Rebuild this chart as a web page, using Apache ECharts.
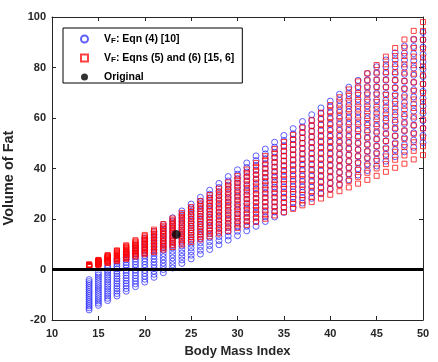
<!DOCTYPE html>
<html>
<head>
<meta charset="utf-8">
<script src="https://cdn.jsdelivr.net/npm/echarts@6/dist/echarts.min.js"></script>
<style>
  html, body { margin: 0; padding: 0; background: #fff; }
  #chart { width: 438px; height: 362px; }
</style>
</head>
<body>
<div id="chart"></div>
<script>
// BMI columns (x) and the value range of each stack
const bmi = [14,15,16,17,18,19,20,21,22,23,24,25,26,27,28,29,30,31,32,33,34,35,36,37,38,39,40,41,42,43,44,45,46,47,48,49,50];

// V_F: Eqn (4) [10]  -- blue circles, lowest / highest per column
const blueLow  = [-16,-14.2,-12.3,-10.5,-8.6,-6.8,-5,-3.1,-1.3,0.6,2.4,4.2,6.1,7.9,9.8,11.6,13.4,15.3,17.1,19,20.8,22.6,24.5,26.3,28.2,30,31.8,33.7,35.5,37.4,39.2,41,42.9,44.7,46.6,48.4,50.2];
const blueHigh = [-4,-1.3,1.4,4.2,6.9,9.6,12.3,15,17.8,20.5,23.2,25.9,28.6,31.4,34.1,36.8,39.5,42.2,45,47.7,50.4,53.1,55.8,58.6,61.3,64,66.7,69.4,72.2,74.9,77.6,80.3,83,85.8,88.5,91.2,93.9];

// V_F: Eqns (5) and (6) [15, 6]  -- red squares, lowest / highest per column
const redLow  = [1,1.8,2.6,3.4,4.2,5.1,6,6.9,7.9,8.9,9.9,10.9,11.9,13.1,14.2,15.3,16.5,17.7,18.9,20.1,21.4,22.7,24,25.4,26.7,28.1,29.6,31,32.5,34,35.5,37.1,38.7,40.3,41.9,43.6,45.3];
const redHigh = [2,3.8,5.7,7.6,9.6,11.6,13.7,15.8,18,20.2,22.4,24.7,27.1,29.5,32,34.5,37,39.6,42.2,44.9,47.7,50.5,53.3,56.2,59.1,62.1,65.1,68.2,71.3,74.5,77.7,81,84.3,87.7,91.1,94.5,98];

const marksPerColumn = 16;
const original = [23.4, 13.9];

const xTicks = { min: 10, max: 50, interval: 5 };
const yTicks = { min: -20, max: 100, interval: 20 };

function columns(low, high) {
    let pts = [];
    for (let i = 0; i < bmi.length; i++) {
        for (let k = 0; k < marksPerColumn; k++) {
            pts.push([bmi[i], low[i] + (high[i] - low[i]) * k / (marksPerColumn - 1)]);
        }
    }
    return pts;
}

const font = "'Liberation Sans', Arial, sans-serif";
const axisColor = '#262626';

let chart = echarts.init(document.getElementById('chart'));
let baseAxis = {
    axisLine: { show: true, onZero: false, lineStyle: { color: axisColor, width: 1 } },
    axisTick: { show: true, inside: true, length: 4, lineStyle: { color: axisColor } },
    splitLine: { show: false },
    axisLabel: { color: axisColor, fontFamily: font, fontWeight: 'bold', fontSize: 11 },
    nameTextStyle: { color: axisColor, fontFamily: font, fontWeight: 'bold', fontSize: 13 }
};

let option = {
    animation: false,
    grid: { left: 52, right: 15, top: 17, bottom: 42, outerBoundsMode: 'none' },
    legend: {
        orient: 'vertical',
        left: 63,
        top: 28,
        padding: [5, 8, 0, 17],
        itemGap: 7,
        itemWidth: 7,
        itemHeight: 7,
        borderColor: '#000',
        borderWidth: 1,
        backgroundColor: '#fff',
        data: ['blue', 'red', 'orig'],
        formatter: function (name) {
            if (name === 'blue') return '{g|}{b|V}{s|F}{b|: Eqn (4) [10]}';
            if (name === 'red') return '{g|}{b|V}{s|F}{b|: Eqns (5) and (6) [15, 6]}';
            return '{g|}{b|Original}';
        },
        textStyle: {
            lineHeight: 12,
            rich: {
                g: { width: 11, lineHeight: 12 },
                b: { fontFamily: font, fontWeight: 'bold', fontSize: 10.5, color: '#000', lineHeight: 12 },
                s: { fontFamily: font, fontWeight: 'bold', fontSize: 8, color: '#000', lineHeight: 12, verticalAlign: 'bottom' }
            }
        }
    },
    xAxis: [
        Object.assign({}, baseAxis, {
            type: 'value', min: xTicks.min, max: xTicks.max, interval: xTicks.interval,
            name: 'Body Mass Index', nameLocation: 'middle', nameGap: 25,
            axisLabel: Object.assign({}, baseAxis.axisLabel, { margin: 8 })
        }),
        Object.assign({}, baseAxis, {
            type: 'value', position: 'top', min: xTicks.min, max: xTicks.max, interval: xTicks.interval,
            axisLabel: { show: false }
        })
    ],
    yAxis: [
        Object.assign({}, baseAxis, {
            type: 'value', min: yTicks.min, max: yTicks.max, interval: yTicks.interval,
            name: 'Volume of Fat', nameLocation: 'middle', nameGap: 23,
            nameTextStyle: Object.assign({}, baseAxis.nameTextStyle, { fontSize: 14.5, padding: [0, 19, 0, 0] }),
            axisLabel: Object.assign({}, baseAxis.axisLabel, { margin: 6 })
        }),
        Object.assign({}, baseAxis, {
            type: 'value', position: 'right', min: yTicks.min, max: yTicks.max, interval: yTicks.interval,
            axisLabel: { show: false }
        })
    ],
    series: [
        {
            name: 'blue',
            type: 'scatter',
            symbol: 'circle',
            symbolSize: 6,
            data: columns(blueLow, blueHigh),
            itemStyle: { color: 'rgba(0,0,0,0)', borderColor: '#2b2bff', borderWidth: 1, opacity: 0.75 },
            z: 2
        },
        {
            name: 'red',
            type: 'scatter',
            symbol: 'rect',
            symbolSize: 5,
            data: columns(redLow, redHigh),
            itemStyle: { color: 'rgba(0,0,0,0)', borderColor: '#ff0000', borderWidth: 1, opacity: 0.75 },
            z: 3
        },
        {
            name: 'orig',
            type: 'scatter',
            symbol: 'circle',
            symbolSize: 9,
            data: [original],
            itemStyle: { color: '#000' },
            z: 5,
            markLine: {
                silent: true,
                symbol: 'none',
                label: { show: false },
                lineStyle: { color: '#000', width: 3, type: 'solid' },
                data: [{ yAxis: 0 }]
            }
        }
    ]
};
chart.setOption(option);
</script>
</body>
</html>
